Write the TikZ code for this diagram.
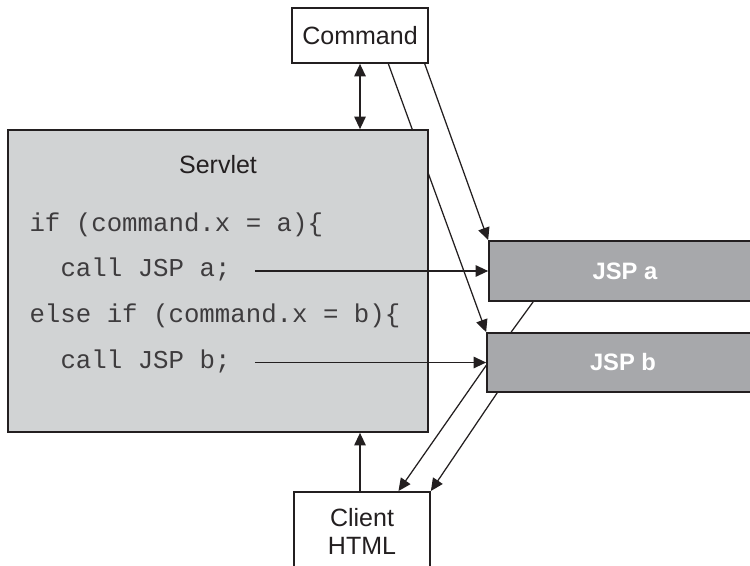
\documentclass[tikz,border=0pt]{standalone}
\usepackage{fontspec}
\setmainfont{Liberation Sans}
\newfontfamily\codefont{Liberation Mono}
\usetikzlibrary{calc, arrows.meta}
\pgfdeclarelayer{back}
\pgfsetlayers{back,main}
\definecolor{servletgray}{RGB}{209,211,212}
\definecolor{jspgray}{RGB}{167,168,171}
\definecolor{inkgray}{RGB}{35,31,32}
\definecolor{codegray}{RGB}{62,60,62}
\newcommand\pxu{0.4pt}

\begin{document}
\begin{tikzpicture}[x=0.4pt,y=-0.4pt,
        box/.style={draw=inkgray,line width=0.7pt,fill=white,inner sep=0pt,
            font=\fontsize{10}{11.2}\selectfont,text=inkgray},
        jsp/.style={box,fill=jspgray,text=white,font=\fontsize{9.5}{11}\selectfont\bfseries,
            minimum width=272*\pxu},
        code/.style={anchor=base west,inner sep=0pt,text=codegray,
            font=\codefont\fontsize{10.3}{12}\selectfont},
        arr/.style={draw=inkgray,line width=0.5pt,-{Triangle[length=5pt,width=4.6pt]}}]
    \useasboundingbox (0,0) rectangle (750,565);

    \node[box,minimum width=136*\pxu,minimum height=55*\pxu] (cmd) at (360,35.5) {Command};
    \node[box,fill=servletgray,minimum width=420*\pxu,minimum height=302*\pxu] (servlet) at (218,281) {};
    \node[box,text=inkgray] (title) at (218,165) [draw=none,fill=none] {Servlet};
    \node[code] (ifa) at (29,231.5) {if (command.x = a)\{};
    \node[code] (calla) at (60,276.5) {call JSP a;};
    \node[code] (ifb) at (29,322.5) {else if (command.x = b)\{};
    \node[code] (callb) at (60,368) {call JSP b;};
    \node[jsp,minimum height=60*\pxu] (jspa) at (625,271) {JSP a};
    \node[jsp,minimum height=59*\pxu] (jspb) at (623,362.5) {JSP b};
    \node[box,align=center,anchor=north,minimum width=136*\pxu,inner ysep=6.6pt,text depth=14pt]
        (client) at (362,491) {Client\\HTML};

    \begin{pgfonlayer}{back}
        \draw[arr] ($(cmd.south west)!0.706!(cmd.south east)$) -- (jspb.north west);
        \draw[arr] ($(jspa.south west)+(45,0)$) -- ($(jspb.north west)+(25,0)$)
            -- ($(jspb.south west)+(11,0)$) -- (client.north east);
    \end{pgfonlayer}

    \draw[arr,{Triangle[length=5pt,width=4.6pt]}-{Triangle[length=5pt,width=4.6pt]}]
        (cmd.south) -- (servlet.north -| cmd.south);
    \draw[arr] ($(cmd.south west)!0.97!(cmd.south east)$) -- (jspa.north west);
    \draw[arr] ([xshift=9.6pt]jspa.west -| calla.east) -- (jspa.west);
    \draw[arr] ([xshift=9.6pt]jspb.west -| callb.east) -- (jspb.west);
    \draw[arr] ([yshift=-1.2pt]jspb.west) -- ($(client.north west)!0.765!(client.north east)$);
    \draw[arr] (client.north -| cmd.south) -- (servlet.south -| cmd.south);
\end{tikzpicture}
\end{document}
